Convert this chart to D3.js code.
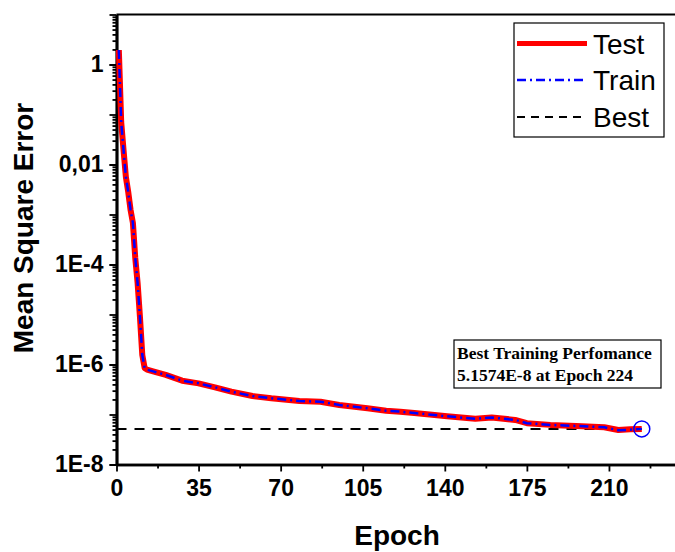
<!DOCTYPE html>
<html>
<head>
<meta charset="utf-8">
<script src="https://cdn.jsdelivr.net/npm/d3@7"></script>
<style>
  body { margin: 0; background: #fff; }
  svg { display: block; font-family: "Liberation Sans", Arial, sans-serif; }
</style>
</head>
<body>
<svg id="chart" width="675" height="552"></svg>
<script>
// ---- data ----
const epochs   = [1, 2, 3, 4, 5, 6, 7, 8, 9, 10, 11, 12, 13, 16, 21, 28, 35, 42, 49, 58, 66, 78, 87, 95, 107, 115, 121, 127, 141, 153, 160, 170, 175, 185, 196, 208, 214, 219, 224];
const testMSE  = [1.95, 0.0708, 0.0195, 0.00562, 0.00282, 0.00123, 6.76e-4, 1.35e-4, 4.27e-5, 8.9e-6, 1.55e-6, 8.5e-7, 7.9e-7, 7.2e-7, 6.2e-7, 4.75e-7, 4.2e-7, 3.5e-7, 2.86e-7, 2.34e-7, 2.11e-7, 1.86e-7, 1.8e-7, 1.55e-7, 1.33e-7, 1.19e-7, 1.14e-7, 1.07e-7, 9.2e-8, 8.2e-8, 8.7e-8, 7.8e-8, 6.7e-8, 6.2e-8, 5.9e-8, 5.55e-8, 4.9e-8, 5.06e-8, 5.1574e-8];
const trainMSE = [1.95, 0.0708, 0.0195, 0.00562, 0.00282, 0.00123, 6.76e-4, 1.35e-4, 4.27e-5, 8.9e-6, 1.55e-6, 8.5e-7, 7.9e-7, 7.2e-7, 6.2e-7, 4.75e-7, 4.2e-7, 3.5e-7, 2.86e-7, 2.34e-7, 2.11e-7, 1.86e-7, 1.8e-7, 1.55e-7, 1.33e-7, 1.19e-7, 1.14e-7, 1.07e-7, 9.2e-8, 8.2e-8, 8.7e-8, 7.8e-8, 6.7e-8, 6.2e-8, 5.9e-8, 5.55e-8, 4.85e-8, 4.95e-8, 5.1574e-8];
const bestValue = 5.1574e-8;
const bestEpoch = 224;
const xTickValues = [0, 35, 70, 105, 140, 175, 210, 245];
const xTickLabels = ["0", "35", "70", "105", "140", "175", "210", ""];
const yTickValues = [1, 1e-2, 1e-4, 1e-6, 1e-8];
const yTickLabels = ["1", "0,01", "1E-4", "1E-6", "1E-8"];
const legendLabels = ["Test", "Train", "Best"];
const annotationLines = ["Best Training Perfomance", "5.1574E-8 at Epoch 224"];

// ---- layout ----
const SANS = "'Liberation Sans', Arial, sans-serif";
const SERIF = "'Liberation Serif', 'Times New Roman', serif";
const svg = d3.select("#chart");
const x = d3.scaleLinear().domain([0, 240]).range([116.5, 679.3]);
const y = d3.scaleLog().domain([1e-8, 10]).range([464.5, 14.5]);

// top frame line
svg.append("line")
  .attr("x1", x(0)).attr("x2", 675)
  .attr("y1", y(10)).attr("y2", y(10))
  .attr("stroke", "#000").attr("stroke-width", 2);

// Y axis: decade ticks (major) and minor ticks
const decades = d3.range(-8, 2).map(e => Math.pow(10, e));
const minors = [];
d3.range(-8, 1).forEach(e => { for (let k = 2; k <= 9; k++) minors.push(k * Math.pow(10, e)); });

const yMinor = svg.append("g").attr("transform", `translate(${x(0)},0)`)
  .call(d3.axisLeft(y).tickValues(minors).tickSize(4).tickSizeOuter(0).tickFormat(""));
const yMajor = svg.append("g").attr("transform", `translate(${x(0)},0)`)
  .call(d3.axisLeft(y).tickValues(decades).tickSize(7).tickSizeOuter(0).tickFormat(""));
const yLab = svg.append("g").attr("transform", `translate(${x(0)},0)`)
  .call(d3.axisLeft(y).tickValues(yTickValues).tickSize(7).tickPadding(6)
        .tickSizeOuter(0).tickFormat((d, i) => yTickLabels[i]));
[yMinor, yMajor, yLab].forEach(g => {
  g.selectAll(".domain").attr("stroke", "#000").attr("stroke-width", 2.5);
  g.selectAll(".tick line").attr("stroke", "#000").attr("stroke-width", 1.8);
});
yLab.selectAll("text").style("font-size", "23px").style("font-weight", "bold")
  .style("font-family", SANS).attr("fill", "#000");

// X axis
const xMinorVals = d3.range(17.5, 240, 35);
const xMinor = svg.append("g").attr("transform", `translate(0,${y(1e-8)})`)
  .call(d3.axisBottom(x).tickValues(xMinorVals).tickSize(4).tickSizeOuter(0).tickFormat(""));
const xMajor = svg.append("g").attr("transform", `translate(0,${y(1e-8)})`)
  .call(d3.axisBottom(x).tickValues(xTickValues).tickSize(7).tickPadding(8).tickSizeOuter(0)
        .tickFormat((d, i) => xTickLabels[i]));
[xMinor, xMajor].forEach(g => {
  g.selectAll(".domain").attr("stroke", "#000").attr("stroke-width", 2.5);
  g.selectAll(".tick line").attr("stroke", "#000").attr("stroke-width", 1.8);
});
xMajor.selectAll("text").style("font-size", "23px").style("font-weight", "bold")
  .style("font-family", SANS).attr("fill", "#000");

// axis titles
svg.append("text")
  .attr("transform", "translate(33,228) rotate(-90)")
  .attr("text-anchor", "middle")
  .style("font-family", SANS).style("font-size", "28px").style("font-weight", "bold")
  .text("Mean Square Error");
svg.append("text")
  .attr("x", 397).attr("y", 545)
  .attr("text-anchor", "middle")
  .style("font-family", SANS).style("font-size", "28px").style("font-weight", "bold")
  .text("Epoch");

// best line
svg.append("line")
  .attr("x1", x(0)).attr("x2", x(bestEpoch))
  .attr("y1", y(bestValue)).attr("y2", y(bestValue))
  .attr("stroke", "#000").attr("stroke-width", 2)
  .attr("stroke-dasharray", "10,8");

// curves
const testData = epochs.map((e, i) => [e, testMSE[i]]);
const trainData = epochs.map((e, i) => [e, trainMSE[i]]);
const line = d3.line().x(d => x(d[0])).y(d => y(d[1]));

svg.append("path").datum(testData)
  .attr("d", line).attr("fill", "none")
  .attr("stroke", "#ff0000").attr("stroke-width", 6)
  .attr("stroke-linejoin", "round");
svg.append("path").datum(trainData)
  .attr("d", line).attr("fill", "none")
  .attr("stroke", "#0000ff").attr("stroke-width", 2.5)
  .attr("stroke-dasharray", "9,4,2,4");

// best marker
svg.append("circle")
  .attr("cx", x(bestEpoch)).attr("cy", y(bestValue)).attr("r", 8)
  .attr("fill", "none").attr("stroke", "#0000ff").attr("stroke-width", 1.5);

// legend
const lg = svg.append("g");
lg.append("rect").attr("x", 514).attr("y", 23).attr("width", 150).attr("height", 114)
  .attr("fill", "#fff").attr("stroke", "#000").attr("stroke-width", 1.2);
const legendStyles = [
  { color: "#ff0000", width: 5, dash: null, ly: 43.5 },
  { color: "#0000ff", width: 2.5, dash: "9,4,2,4", ly: 80 },
  { color: "#000", width: 2, dash: "8,6", ly: 117 }
];
legendLabels.forEach((lab, i) => {
  const s = legendStyles[i];
  const l = lg.append("line").attr("x1", 517).attr("x2", 587)
    .attr("y1", s.ly).attr("y2", s.ly)
    .attr("stroke", s.color).attr("stroke-width", s.width);
  if (s.dash) l.attr("stroke-dasharray", s.dash);
  lg.append("text").attr("x", 593).attr("y", s.ly + 10)
    .style("font-family", SANS).style("font-size", "28px")
    .attr("fill", "#000").text(lab);
});

// annotation box
const ag = svg.append("g");
ag.append("rect").attr("x", 454).attr("y", 340).attr("width", 207).attr("height", 48)
  .attr("fill", "#fff").attr("stroke", "#000").attr("stroke-width", 1.2);
annotationLines.forEach((t, i) => {
  ag.append("text").attr("x", 457).attr("y", 359 + i * 22)
    .style("font-family", SERIF).style("font-weight", "bold").style("font-size", "17.5px")
    .attr("fill", "#000").text(t);
});
</script>
</body>
</html>
